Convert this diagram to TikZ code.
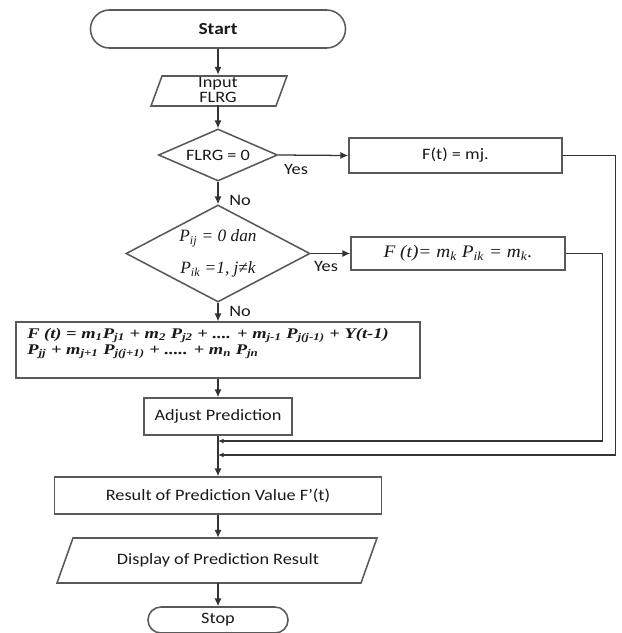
\documentclass[tikz,border=0pt]{standalone}
\usepackage{fontspec}
\setmainfont{Carlito}[FakeStretch=1.15]
\newfontfamily\serifit{Liberation Serif}[FakeStretch=1.1]
\newfontfamily\serifd{Liberation Serif}
\newfontfamily\formfont{Liberation Serif}[FakeStretch=1.25]
\usetikzlibrary{shapes.geometric,shapes.misc,arrows.meta}
\newcommand\sbs[1]{\textsubscript{#1}}
\begin{document}
\begin{tikzpicture}[x=0.025cm,y=-0.025cm,
  outl/.style={draw=black!65, line width=1.1pt},
  conn/.style={draw=black!80, line width=0.9pt},
  arr/.style={conn, -{Latex[length=5.5pt,width=5pt]}},
  arrs/.style={conn, -{Latex[length=4pt,width=3.5pt]}},
  lbl/.style={font=\fontsize{11.3}{10.5}\selectfont, text=black!90},
  box/.style={rectangle, outl, inner sep=0pt, lbl},
  term/.style={rounded rectangle, outl, inner sep=0pt, lbl},
  dia/.style={diamond, outl, inner sep=0pt, aspect=1.9, lbl},
  mathit/.style={font=\serifit\itshape\fontsize{12.5}{23}\selectfont, text=black!90},
  diait/.style={font=\serifd\itshape\fontsize{12.3}{23}\selectfont, text=black!90},
  yn/.style={lbl, inner sep=0pt}]
\useasboundingbox (0,0) rectangle (621,633);

% nodes
\node[term, minimum width=6.375cm, minimum height=0.95cm,
      font=\bfseries\fontsize{12}{12}\selectfont] (start) at (218,29) {Start};
\node[lbl, align=center, inner sep=0pt, minimum width=3.1125cm, minimum height=0.75cm] (input) at (218,90) {Input\\FLRG};
\draw[outl] (151,106) -- (162,76) -- (287,76) -- (276,106) -- cycle;
\node[dia, minimum width=2.975cm, minimum height=1.3cm] (d1) at (218,155) {FLRG = 0};
\node[box, minimum width=5.325cm, minimum height=0.875cm] (fmj) at (455.5,155.5) {F(t) = mj.};
\node[dia, diait, align=center, minimum width=4.6cm, minimum height=2.425cm] (d2) at (218,253.5)
  {P\sbs{ij} = 0 dan\\P\sbs{ik} =1, j≠k};
\node[box, mathit, minimum width=5.35cm, minimum height=0.825cm] (fmk) at (458,253.5)
  {F (t)= m\sbs{k} P\sbs{ik} = m\sbs{k}.};
\node[box, minimum width=10.1cm, minimum height=1.4cm] (form) at (218,350) {};
\node[anchor=north west, inner sep=0pt, align=left, text=black!90,
      font=\formfont\bfseries\itshape\fontsize{10.5}{11}\selectfont] (formtxt) at (27,328)
  {F (t) = m\sbs{1}P\sbs{j1} + m\sbs{2} P\sbs{j2} + .... + m\sbs{j-1} P\sbs{j(j-1)} + Y(t-1)\\
   P\sbs{jj} + m\sbs{j+1} P\sbs{j(j+1)} + ..... + m\sbs{n} P\sbs{jn}};
\node[box, minimum width=3.7cm, minimum height=0.925cm] (adjust) at (218,416.5) {Adjust Prediction};
\node[box, minimum width=8.175cm, minimum height=0.925cm] (result) at (218,495.5) {Result of Prediction Value F'(t)};
\node[lbl, inner sep=0pt, minimum width=7.6125cm, minimum height=1.125cm] (display) at (218,560.5) {Display of Prediction Result};
\draw[outl] (57,583) -- (73,538) -- (377,538) -- (361,583) -- cycle;
\node[term, minimum width=3.5cm, minimum height=0.65cm] (stop) at (218,620) {Stop};

% merge points
\coordinate (m1) at (218,441);
\coordinate (m2) at (218,455);

% connectors
\draw[arr] (start.south) -- (input.north);
\draw[arr] (input.south) -- (d1.north);
\draw[arr] (d1.east) -- (fmj.west);
\node[yn] (yes1) at (296,169) {Yes};
\draw[arr] (d1.south) -- (d2.north);
\node[yn, anchor=west] (no1) at (229,200) {No};
\draw[arr] (d2.east) -- (fmk.west);
\node[yn] (yes2) at (326,266) {Yes};
\draw[arr] (d2.south) -- (form.north);
\node[yn, anchor=west] (no2) at (229,311) {No};
\draw[arr] (form.south) -- (adjust.north);
\draw[arr] (adjust.south) -- (result.north);
\draw[arrs] (fmk.east) -- ++(37,0) |- (m1);
\draw[arrs] (fmj.east) -- ++(53,0) |- (m2);
\draw[arr] (result.south) -- (display.north);
\draw[arr] (display.south) -- (stop.north);
\end{tikzpicture}
\end{document}
